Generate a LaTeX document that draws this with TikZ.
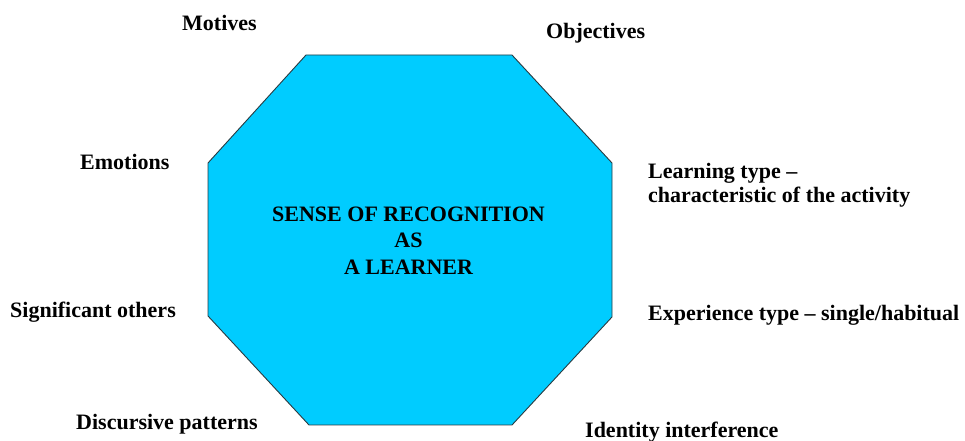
\documentclass[tikz,border=0pt]{standalone}
\usepackage{fontspec}
\setmainfont{Liberation Serif}
\definecolor{octfill}{HTML}{00CCFF}
\definecolor{octline}{HTML}{2A3A40}
\begin{document}
\begin{tikzpicture}[x=1bp,y=-1bp,
  lbl/.style={anchor=base west,inner sep=0pt,font=\fontsize{22bp}{24bp}\selectfont\bfseries},
  ctr/.style={anchor=base,inner sep=0pt,align=center,font=\fontsize{22bp}{26.5bp}\selectfont\bfseries}]
\useasboundingbox (0,0) rectangle (965,441);
\draw[fill=octfill,draw=octline,line width=0.9bp]
  (306,55) -- (512,55) -- (612,163) -- (612,317) -- (512,425) -- (309,425) -- (208,316) -- (208,163) -- cycle;
\node[ctr] (c1) at (408.5,222) {SENSE OF RECOGNITION};
\node[ctr] (c2) at (408.5,248) {AS};
\node[ctr] (c3) at (408.5,275) {A LEARNER};
\node[lbl] (mot) at (182,31) {Motives};
\node[lbl] (obj) at (546,39) {Objectives};
\node[lbl] (emo) at (80,170) {Emotions};
\node[lbl] (sig) at (10,318) {Significant others};
\node[lbl] (dis) at (76,429) {Discursive patterns};
\node[lbl] (lt1) at (648,179) {Learning type –};
\node[lbl] (lt2) at (648,203) {characteristic of the activity};
\node[lbl] (exp) at (648,321) {Experience type – single/habitual};
\node[lbl] (idn) at (585,437) {Identity interference};
\end{tikzpicture}
\end{document}
